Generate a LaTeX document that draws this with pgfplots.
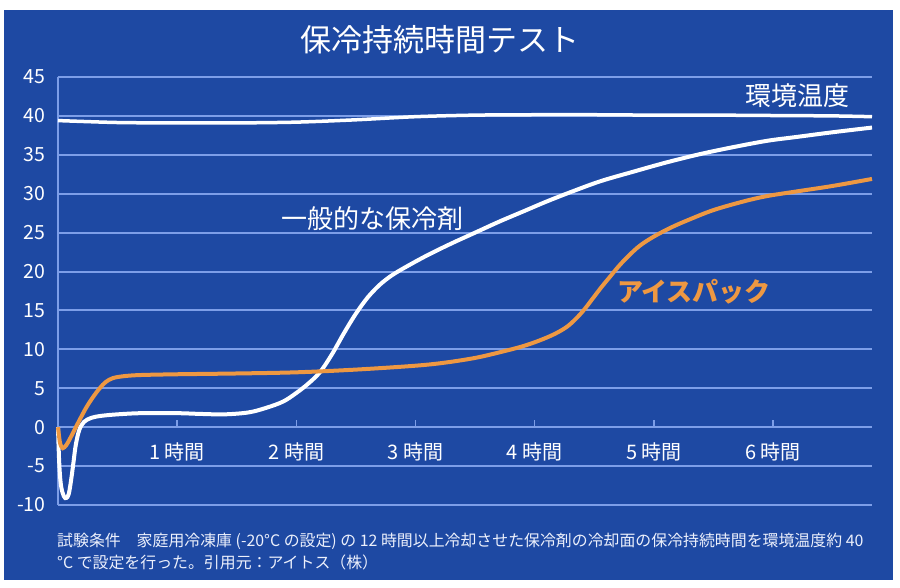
\documentclass[border=0pt]{standalone}
\usepackage{fontspec}
\setmainfont{Noto Sans CJK JP}
\usepackage{pgfplots}
\pgfplotsset{compat=1.18}
\definecolor{bg}{RGB}{30,73,163}
\definecolor{gridc}{RGB}{125,158,232}
\definecolor{orng}{RGB}{238,152,66}
\definecolor{foot}{RGB}{236,240,252}
\begin{document}
\begin{tikzpicture}[x=1pt,y=1pt]
\fill[white] (0,0) rectangle (900,588);
\fill[bg] (4,8) rectangle (893,578);
\node[white,font=\fontsize{31}{31}\selectfont] at (440,548) {保冷持続時間テスト};
\begin{axis}[
  at={(58pt,83pt)}, anchor=south west,
  scale only axis, width=814pt, height=428pt,
  xmin=0, xmax=6.83, ymin=-10, ymax=45,
  axis lines=left, axis line style={draw=none},
  xtick=\empty, ytick={-10,-5,...,45},
  major tick length=0pt,
  ymajorgrids, grid style={gridc, line width=2pt},
  /pgf/number format/assume math mode=true,
  yticklabel style={font=\fontsize{19.5}{19.5}\selectfont, text=white, xshift=-9pt},
  clip=false,
]
\draw[gridc, line width=2pt] (axis cs:0,-10) -- (axis cs:0,45);
\pgfplotsinvokeforeach{1,...,6}{
  \draw[gridc, line width=1.5pt] (axis cs:#1,0) -- ([yshift=7pt]axis cs:#1,0);
  \node[white, font=\fontsize{20}{20}\selectfont] at (axis cs:#1,-3.2) {#1 時間};
}
% ambient temperature
\addplot[white, line width=3.5pt, smooth, tension=0.5] coordinates {
(0,39.4) (0.5,39.15) (1,39.1) (1.5,39.1) (2,39.2) (2.5,39.5) (3,39.9) (3.5,40.1)
(4,40.15) (4.5,40.15) (5,40.1) (5.5,40.1) (6,40.05) (6.5,40.0) (6.83,39.9)
};
% general ice pack
\addplot[white, line width=4pt, smooth, tension=0.55] coordinates {
(0,0) (0.01,-4.5) (0.025,-7.5) (0.05,-8.9) (0.07,-9.1) (0.09,-8.6) (0.11,-6.8) (0.13,-4.5)
(0.15,-2.2) (0.18,-0.3) (0.22,0.7) (0.28,1.2) (0.36,1.45) (0.5,1.65) (0.7,1.8) (1.0,1.8)
(1.2,1.7) (1.4,1.65) (1.6,1.9) (1.75,2.5) (1.89,3.3) (2.0,4.4) (2.1,5.6) (2.2,7.1)
(2.3,9.4) (2.4,12.1) (2.5,14.6) (2.6,16.7) (2.7,18.3) (2.8,19.5) (2.92,20.6) (3.1,22.1)
(3.3,23.6) (3.5,25.0) (3.7,26.4) (3.9,27.7) (4.1,29.0) (4.3,30.2) (4.55,31.6) (4.82,32.8)
(5.1,34.0) (5.39,35.1) (5.67,36.0) (5.95,36.8) (6.2,37.3) (6.5,37.9) (6.83,38.5)
};
% ice pack
\addplot[orng, line width=4pt, smooth, tension=0.55] coordinates {
(0,0) (0.01,-1.3) (0.02,-2.2) (0.04,-2.7) (0.07,-2.3) (0.1,-1.5) (0.13,-0.6) (0.18,0.9)
(0.24,2.6) (0.30,4.0) (0.35,5.0) (0.40,5.8) (0.46,6.3) (0.55,6.55) (0.69,6.7) (1.0,6.8)
(1.5,6.9) (2.0,7.05) (2.5,7.4) (3.0,7.9) (3.25,8.3) (3.5,8.9) (3.7,9.6) (3.9,10.4)
(4.05,11.2) (4.17,12.0) (4.27,12.9) (4.35,14.0) (4.42,15.2) (4.49,16.6) (4.56,18.0) (4.63,19.3)
(4.7,20.6) (4.78,21.9) (4.88,23.3) (5.0,24.5) (5.15,25.7) (5.3,26.7) (5.5,27.9) (5.75,29.0)
(5.95,29.7) (6.2,30.3) (6.5,31.0) (6.83,31.9)
};
\end{axis}
\node[white,font=\fontsize{26}{26}\selectfont] at (797,492) {環境温度};
\node[white,font=\fontsize{26}{26}\selectfont] at (372,369) {一般的な保冷剤};
\node[orng,font=\fontsize{26}{26}\selectfont\bfseries] at (694,296) {アイスパック};
\node[foot,anchor=west,inner sep=0pt,font=\fontsize{15.9}{15.9}\selectfont] at (57,47) {試験条件　家庭用冷凍庫 (-20°C の設定) の 12 時間以上冷却させた保冷剤の冷却面の保冷持続時間を環境温度約 40};
\node[foot,anchor=west,inner sep=0pt,font=\fontsize{15.9}{15.9}\selectfont] at (57,26) {°C で設定を行った。引用元：アイトス（株）};
\end{tikzpicture}
\end{document}
